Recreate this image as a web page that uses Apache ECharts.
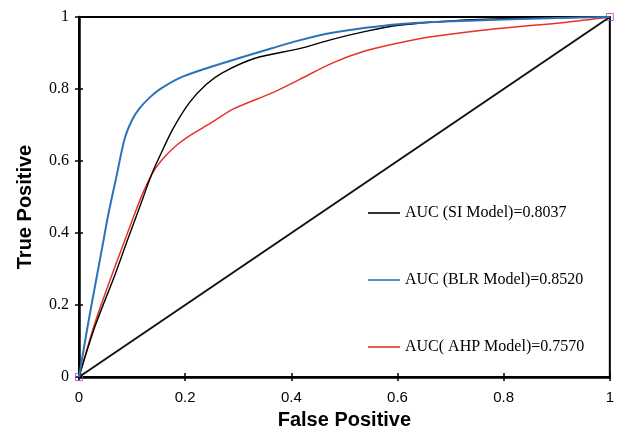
<!DOCTYPE html>
<html>
<head>
<meta charset="utf-8">
<script src="https://cdn.jsdelivr.net/npm/echarts@6/dist/echarts.min.js"></script>
<style>
  html, body { margin: 0; padding: 0; background: #fff; }
  #roc { width: 617px; height: 435px; }
</style>
</head>
<body>
<div id="roc"></div>
<script>
// ROC 曲线数据 (false positive, true positive)
var siCurve = [
    [0, 0], [0.03, 0.14], [0.068, 0.285], [0.09, 0.375], [0.12, 0.495],
    [0.136, 0.56], [0.152, 0.613], [0.177, 0.689], [0.208, 0.762], [0.24, 0.813],
    [0.27, 0.845], [0.333, 0.886], [0.415, 0.912], [0.477, 0.938], [0.54, 0.96],
    [0.602, 0.977], [0.7, 0.989], [0.8, 0.995], [0.9, 0.998], [1, 1]
];
var blrCurve = [
    [0, 0], [0.017, 0.147], [0.033, 0.275], [0.045, 0.37], [0.055, 0.45],
    [0.071, 0.56], [0.086, 0.662], [0.1, 0.714], [0.114, 0.746], [0.133, 0.776],
    [0.152, 0.799], [0.19, 0.831], [0.233, 0.854], [0.302, 0.886], [0.365, 0.914],
    [0.415, 0.935], [0.477, 0.956], [0.54, 0.97], [0.602, 0.98], [0.7, 0.988],
    [0.8, 0.993], [0.9, 0.997], [1, 1]
];
var ahpCurve = [
    [0, 0], [0.03, 0.15], [0.06, 0.275], [0.08, 0.355], [0.099, 0.43],
    [0.12, 0.51], [0.14, 0.57], [0.161, 0.611], [0.185, 0.645], [0.208, 0.67],
    [0.25, 0.707], [0.29, 0.744], [0.365, 0.79], [0.415, 0.826], [0.477, 0.872],
    [0.54, 0.906], [0.602, 0.928], [0.664, 0.945], [0.79, 0.968], [0.915, 0.985],
    [1, 1]
];
var diagonal = [[0, 0], [1, 1]];
var endPoints = [[0, 0], [1, 1]];
var seriesNames = ['AUC (SI Model)=0.8037', 'AUC (BLR Model)=0.8520', 'AUC( AHP Model)=0.7570'];
var tickStep = 0.2;

var chart = echarts.init(document.getElementById('roc'));

function makeLegend(name, top) {
    return {
        data: [name],
        left: 368,
        top: top,
        padding: 0,
        icon: 'rect',
        itemWidth: 32,
        itemHeight: 1.6,
        selectedMode: false,
        textStyle: { fontFamily: 'Liberation Serif', fontSize: 16, color: '#000' }
    };
}

var option = {
    animation: false,
    grid: {
        left: 79, right: 5, top: 17, bottom: 55,
        show: true, borderColor: '#000', borderWidth: 2
    },
    legend: [
        makeLegend(seriesNames[0], 205),
        makeLegend(seriesNames[1], 272),
        makeLegend(seriesNames[2], 339)
    ],
    xAxis: [{
        type: 'value', min: 0, max: 1, interval: tickStep,
        name: 'False Positive', nameLocation: 'middle', nameGap: 33,
        nameTextStyle: { fontFamily: 'Liberation Sans', fontWeight: 'bold', fontSize: 20, color: '#000' },
        axisLine: { lineStyle: { color: '#000', width: 2.5 } },
        axisTick: { length: 4, lineStyle: { color: '#000', width: 1.5 } },
        axisLabel: { margin: 13, fontFamily: 'Liberation Sans', fontSize: 15, color: '#000' },
        splitLine: { show: false }
    }, {
        type: 'value', min: 0, max: 1, interval: tickStep, position: 'bottom',
        axisLine: { show: false },
        axisTick: { inside: true, length: 4, lineStyle: { color: '#000', width: 1.5 } },
        axisLabel: { show: false },
        splitLine: { show: false }
    }],
    yAxis: [{
        type: 'value', min: 0, max: 1, interval: tickStep,
        name: 'True Positive', nameLocation: 'middle', nameGap: 44,
        nameTextStyle: { fontFamily: 'Liberation Sans', fontWeight: 'bold', fontSize: 20, color: '#000', padding: [0, 20, 0, 0] },
        axisLine: { lineStyle: { color: '#000', width: 2.5 } },
        axisTick: { length: 4, lineStyle: { color: '#000', width: 1.5 } },
        axisLabel: { margin: 10, fontFamily: 'Liberation Serif', fontSize: 16, color: '#000' },
        splitLine: { show: false }
    }, {
        type: 'value', min: 0, max: 1, interval: tickStep, position: 'left',
        axisLine: { show: false },
        axisTick: { inside: true, length: 4, lineStyle: { color: '#000', width: 1.5 } },
        axisLabel: { show: false },
        splitLine: { show: false }
    }],
    series: [{
        name: 'diagonal',
        type: 'line',
        data: diagonal,
        showSymbol: false,
        lineStyle: { color: '#111', width: 2 }
    }, {
        name: seriesNames[2],
        type: 'line',
        data: ahpCurve,
        smooth: 0.3,
        showSymbol: false,
        color: '#e8312b',
        lineStyle: { color: '#e8312b', width: 1.5 }
    }, {
        name: seriesNames[0],
        type: 'line',
        data: siCurve,
        smooth: 0.3,
        showSymbol: false,
        color: '#000',
        lineStyle: { color: '#000', width: 1.4 }
    }, {
        name: seriesNames[1],
        type: 'line',
        data: blrCurve,
        smooth: 0.3,
        showSymbol: false,
        color: '#2b72b9',
        lineStyle: { color: '#2b72b9', width: 2 }
    }, {
        name: 'ends',
        type: 'scatter',
        data: endPoints,
        symbol: 'rect',
        symbolSize: 7,
        itemStyle: { color: 'rgba(0,0,0,0)', borderColor: '#c040c0', borderWidth: 1 }
    }]
};

chart.setOption(option);
</script>
</body>
</html>
